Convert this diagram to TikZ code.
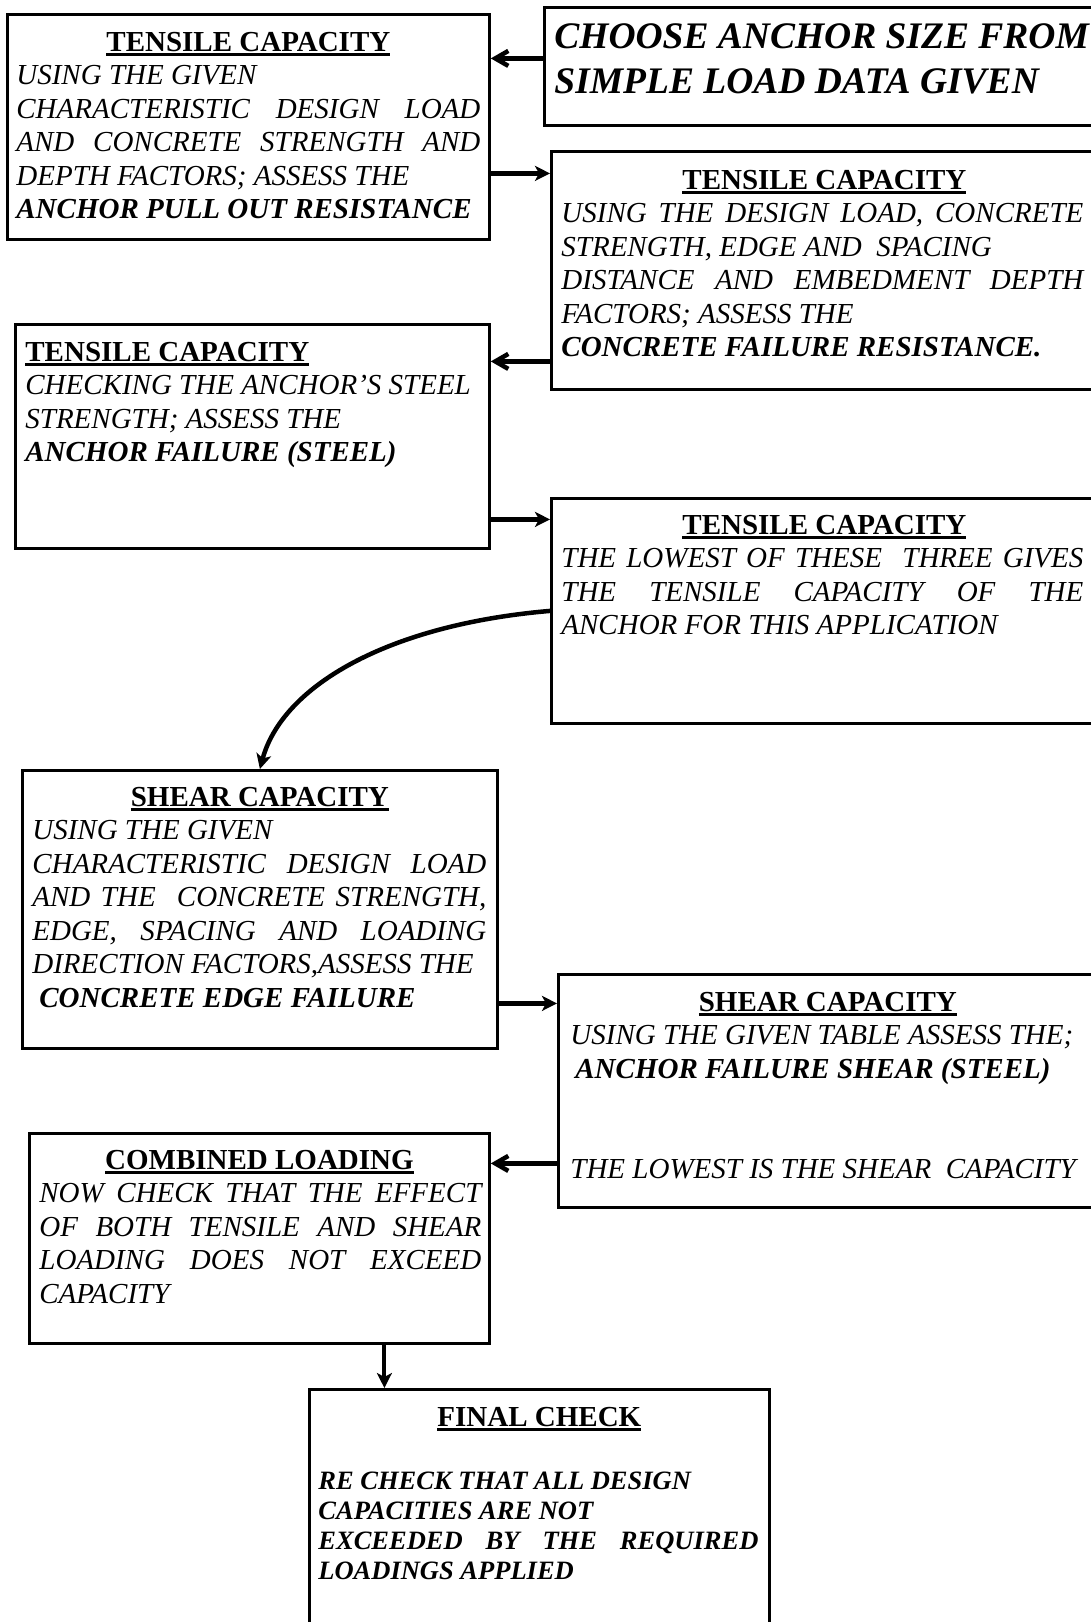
\documentclass[tikz,border=0pt]{standalone}
\usepackage{fontspec}
\setmainfont{Liberation Serif}
\usetikzlibrary{arrows.meta}
\newsavebox{\titlebox}
\newcommand{\boxtitle}[1]{\sbox{\titlebox}{\bfseries\upshape #1}\rlap{\rule[-4.5pt]{\wd\titlebox}{3pt}}\usebox{\titlebox}}
\tikzset{
	stepbox/.style={rectangle, draw=black, line width=2.8pt, anchor=north west, inner sep=0pt, font=\fontsize{29}{33.5}\selectfont},
	flowarrow/.style={-{Stealth[length=15pt, width=15pt, inset=4pt]}, line width=4.5pt},
	backarrow/.style={-{Straight Barb[length=13pt, width=15pt]}, line width=4.5pt},
	droparrow/.style={-{Stealth[length=15pt, width=15pt, inset=4pt]}, line width=4pt},
}
\begin{document}
\begin{tikzpicture}[x=1pt, y=-1pt]
\useasboundingbox (0,0) rectangle (1091,1622);
\clip (0,0) rectangle (1091,1622);
% start box
\node[stepbox] (choose) at (543,6) {\parbox[t][118pt][t]{560pt}{%
\leftskip=10pt \fontsize{37.5}{45}\selectfont\bfseries\itshape
\rule{0pt}{41pt}CHOOSE ANCHOR SIZE FROM\\
SIMPLE LOAD DATA GIVEN\par}};
% tensile capacity
\node[stepbox] (pullout) at (6,13) {\parbox[t][225pt][t]{482pt}{%
{\centering\rule{0pt}{37pt}\boxtitle{TENSILE CAPACITY}\par}
\leftskip=9pt \rightskip=9pt \itshape
USING THE GIVEN\\
CHARACTERISTIC DESIGN LOAD\linebreak
AND CONCRETE STRENGTH AND\linebreak
DEPTH FACTORS; ASSESS THE\\
{\bfseries ANCHOR PULL OUT RESISTANCE}\par}};
\node[stepbox] (concrete) at (550,150) {\parbox[t][238pt][t]{546pt}{%
{\centering\rule{0pt}{38pt}\boxtitle{TENSILE CAPACITY}\par}
\leftskip=10pt \rightskip=14pt \itshape
USING THE DESIGN LOAD, CONCRETE\linebreak
STRENGTH, EDGE AND\ \ SPACING\\
DISTANCE AND EMBEDMENT DEPTH\linebreak
FACTORS; ASSESS THE\\
{\bfseries CONCRETE FAILURE RESISTANCE.}\par}};
\node[stepbox] (steel) at (14,323) {\parbox[t][224pt][t]{474pt}{%
\leftskip=10pt \rightskip=10pt
\rule{0pt}{37pt}\boxtitle{TENSILE CAPACITY}\\
\itshape CHECKING THE ANCHOR’S STEEL\\
STRENGTH; ASSESS THE\\
{\bfseries ANCHOR FAILURE (STEEL)}\par}};
\node[stepbox] (lowest) at (550,497) {\parbox[t][225pt][t]{546pt}{%
{\centering\rule{0pt}{36pt}\boxtitle{TENSILE CAPACITY}\par}
\leftskip=10pt \rightskip=14pt \itshape
THE LOWEST OF THESE\ \ THREE GIVES\linebreak
THE TENSILE CAPACITY OF THE\linebreak
ANCHOR FOR THIS APPLICATION\par}};
% shear capacity
\node[stepbox] (edge) at (21,769) {\parbox[t][278pt][t]{475pt}{%
{\centering\rule{0pt}{36pt}\boxtitle{SHEAR CAPACITY}\par}
\leftskip=10pt \rightskip=11pt \itshape
USING THE GIVEN\\
CHARACTERISTIC DESIGN LOAD\linebreak
AND THE\ \ CONCRETE STRENGTH,\linebreak
EDGE, SPACING AND LOADING\linebreak
DIRECTION FACTORS,ASSESS THE\\
\hspace*{7pt}{\bfseries CONCRETE EDGE FAILURE}\par}};
\node[stepbox] (shearsteel) at (557,973) {\parbox[t][233pt][t]{539pt}{%
{\centering\rule{0pt}{37pt}\boxtitle{SHEAR CAPACITY}\par}
\leftskip=12pt \rightskip=14pt \itshape
USING THE GIVEN TABLE ASSESS THE;\\
\hspace*{5pt}{\bfseries ANCHOR FAILURE SHEAR (STEEL)}\\[67pt]
THE LOWEST IS THE SHEAR\ \ CAPACITY\par}};
% combined and final
\node[stepbox] (combined) at (28,1132) {\parbox[t][210pt][t]{460pt}{%
{\centering\rule{0pt}{36pt}\boxtitle{COMBINED LOADING}\par}
\leftskip=10pt \rightskip=8pt \itshape
NOW CHECK THAT THE EFFECT\linebreak
OF BOTH TENSILE AND SHEAR\linebreak
LOADING DOES NOT EXCEED\linebreak
CAPACITY\par}};
\node[stepbox] (final) at (308,1388) {\parbox[t][270pt][t]{460pt}{%
{\centering\rule{0pt}{37pt}\boxtitle{FINAL CHECK}\par}
\vspace{33pt}
\leftskip=9pt \rightskip=11pt \fontsize{26.5}{30}\selectfont\bfseries\itshape
RE CHECK THAT ALL DESIGN\\
CAPACITIES ARE NOT\\
EXCEEDED BY THE REQUIRED\linebreak
LOADINGS APPLIED\par}};
% connectors
\draw[backarrow] ([yshift=8pt]choose.west) -- ([yshift=8pt]choose.west -| pullout.east);
\draw[flowarrow] ([yshift=-46.5pt]pullout.east) -- ([yshift=-46.5pt]pullout.east -| concrete.west);
\draw[backarrow] ([yshift=-91pt]concrete.west) -- ([yshift=-91pt]concrete.west -| steel.east);
\draw[flowarrow] ([yshift=-83pt]steel.east) -- ([yshift=-83pt]steel.east -| lowest.west);
\draw[flowarrow] (lowest.west) .. controls +(-164,14) and +(22,-82) .. (edge.north);
\draw[flowarrow] ([yshift=-94pt]edge.east) -- ([yshift=-94pt]edge.east -| shearsteel.west);
\draw[backarrow] ([yshift=-72.5pt]shearsteel.west) -- ([yshift=-72.5pt]shearsteel.west -| combined.east);
\draw[droparrow] ([xshift=125pt]combined.south) -- ([xshift=125pt]combined.south |- final.north);
\end{tikzpicture}
\end{document}
